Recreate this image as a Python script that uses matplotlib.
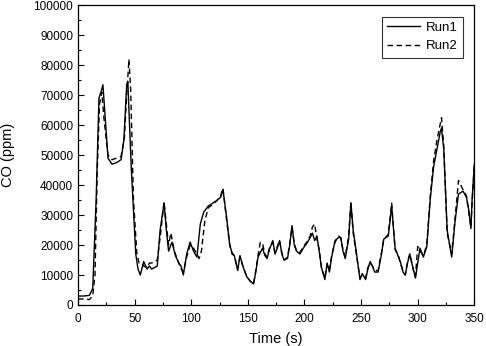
import numpy as np
import matplotlib.pyplot as plt

plt.rcParams['font.family'] = ['Liberation Sans', 'DejaVu Sans']

# Run1 (solid)
t_run1 = [0, 5, 10, 13, 16, 18.5, 21, 22, 26.5, 30, 34, 38, 40.5, 43, 44, 47, 51, 53, 55, 58,
          61, 63, 65, 70, 72.5, 76, 78, 80, 83, 86, 89, 91, 93, 96, 99, 102, 105, 108, 111, 115,
          119, 123, 126, 128, 131, 134, 136, 138, 141, 143, 146, 149, 152, 155, 157, 159, 161, 163, 165, 167,
          169, 172, 174, 176, 178, 180, 182, 185, 187, 189, 191, 193, 196, 199, 202, 205, 207, 209, 211, 213,
          215, 218, 220, 222, 224, 227, 230, 232, 234, 236, 239, 241, 243, 246, 249, 251, 254, 256, 258, 260,
          262, 265, 268, 270, 274, 277, 280, 283, 285, 287, 289, 291, 293, 296, 298, 300, 302, 305, 308, 311,
          314, 317, 320, 321, 323, 326, 330, 333, 336, 340, 343, 345, 347, 348, 350]
co_run1 = [3000, 3000, 3200, 5500, 35000, 69000, 72000, 73500, 49000, 47000, 47500, 48500, 55000, 73500, 74500, 46000, 17000, 12000, 10000, 14500,
           12000, 13000, 12000, 13000, 25000, 34000, 25000, 18000, 21000, 16500, 14000, 13000, 10000, 17000, 21000, 18000, 16000, 27000, 31000, 33000,
           34000, 35000, 36000, 38500, 30000, 20000, 17500, 16500, 11500, 16500, 12500, 9500, 8000, 7000, 11000, 16000, 17500, 19000, 16500, 15500,
           18500, 21500, 17000, 19000, 21500, 17000, 15000, 15500, 20000, 26500, 20000, 18000, 17000, 19000, 20500, 22500, 24000, 21500, 23000, 18000,
           12500, 8500, 14000, 11000, 16000, 21500, 22500, 22500, 18000, 15500, 22000, 34000, 25000, 17000, 8500, 10500, 8500, 12000, 14500, 13000,
           11000, 11000, 17000, 22000, 23000, 33000, 19000, 16000, 14000, 11000, 10000, 14000, 17000, 12000, 9000, 14000, 19000, 16000, 19500, 35000,
           46000, 52000, 58000, 59000, 52000, 25000, 16000, 28000, 37000, 38000, 36000, 32000, 25500, 35000, 47000]

# Run2 (dashed)
t_run2 = [0, 5, 10, 13, 15, 17, 19, 21, 23, 26.5, 30, 34, 38, 41, 43, 45, 46.5, 49, 52, 54,
          56, 58, 61, 63, 65, 70, 73, 76, 78, 80, 82, 85, 88, 91, 93, 96, 99, 102, 105, 107,
          109, 112, 115, 119, 123, 126, 128, 131, 134, 136, 138, 141, 143, 146, 149, 152, 155, 157, 159, 161,
          163, 165, 167, 169, 172, 174, 176, 178, 180, 182, 185, 187, 189, 191, 193, 196, 199, 202, 205, 207,
          209, 211, 213, 215, 218, 220, 222, 224, 227, 230, 232, 234, 236, 239, 241, 243, 246, 249, 251, 254,
          256, 258, 260, 262, 265, 268, 270, 274, 277, 280, 283, 285, 287, 289, 291, 293, 296, 298, 300, 302,
          305, 308, 311, 314, 317, 321, 323, 326, 330, 333, 336, 340, 343, 345, 347, 348, 350]
co_run2 = [2000, 2000, 1800, 3000, 10000, 45000, 67000, 71000, 62000, 50000, 48500, 49000, 49500, 56000, 70000, 82000, 72000, 35000, 17000, 14000,
           14000, 13000, 12500, 14000, 14000, 15000, 24000, 34500, 27000, 20000, 24000, 18000, 15000, 12000, 11000, 16000, 20000, 19000, 17000, 15500,
           18000, 28000, 32500, 33500, 35000, 36500, 39000, 29000, 20000, 17000, 16500, 12000, 16000, 12500, 9500, 8000, 7000, 11500, 16500, 21000,
           20500, 17000, 16000, 19000, 21000, 17500, 19500, 21500, 17500, 15000, 16000, 20500, 26000, 20500, 18000, 17500, 19500, 21000, 23000, 26000,
           27000, 22000, 18500, 12500, 9000, 13500, 11500, 16500, 21000, 23000, 22500, 18500, 16000, 23000, 34500, 24000, 16500, 9000, 10000, 9000,
           12500, 14000, 13000, 11500, 11500, 17500, 22000, 23500, 34000, 18500, 16500, 13500, 11500, 10000, 14500, 17000, 12000, 9500, 19500, 18000,
           16500, 20000, 36000, 48000, 55000, 62500, 53000, 24000, 17000, 29000, 41500, 38500, 36500, 31000, 26000, 34000, 47000]

fig = plt.figure(figsize=(4.86, 3.46), dpi=100)
ax = fig.add_axes([0.1605, 0.1185, 0.8155, 0.866])

ax.plot(t_run1, co_run1, color='black', linewidth=1.0, label='Run1')
ax.plot(t_run2, co_run2, color='black', linewidth=1.0, linestyle=(0, (4, 2.5)), label='Run2')

ax.set_xlim(0, 350)
ax.set_ylim(0, 100000)
ax.set_xticks(np.arange(0, 351, 50))
ax.set_xticks(np.arange(0, 351, 25), minor=True)
ax.set_yticks(np.arange(0, 100001, 10000))
ax.set_yticks(np.arange(0, 100001, 5000), minor=True)
ax.tick_params(which='both', direction='in', top=False, right=False, labelsize=8.5)
ax.tick_params(which='major', length=4.5, width=0.8)
ax.tick_params(which='minor', length=2.5, width=0.8)
ax.tick_params(axis='x', which='major', pad=6)
for s in ax.spines.values():
    s.set_linewidth(0.9)

ax.set_xlabel('Time (s)', fontsize=10.5, labelpad=5)
ax.set_ylabel('CO (ppm)', fontsize=10.5, labelpad=13)

leg = ax.legend(loc='upper right', fontsize=9.5, frameon=True, fancybox=False,
                edgecolor='black', handlelength=2.5, borderpad=0.4,
                labelspacing=0.45, handletextpad=0.45, borderaxespad=0.85)
leg.get_frame().set_linewidth(0.8)

fig.savefig('out.png', dpi=100)
